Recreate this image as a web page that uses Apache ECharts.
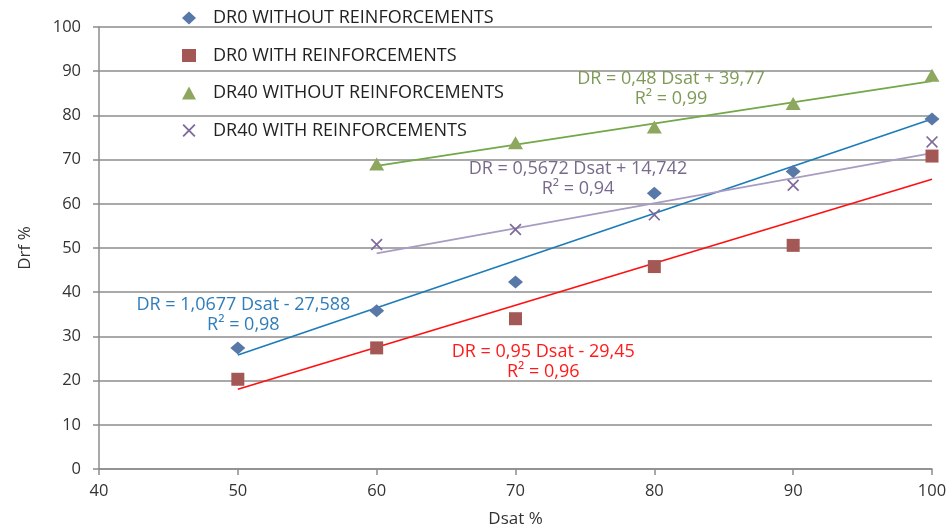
<!DOCTYPE html>
<html>
<head>
<meta charset="utf-8">
<script src="https://cdn.jsdelivr.net/npm/echarts@6/dist/echarts.min.js"></script>
<style>
  html, body { margin: 0; padding: 0; background: #fff; }
  #chart { width: 946px; height: 530px; }
</style>
</head>
<body>
<div id="chart"></div>
<script>
// Degree of saturation (Dsat %) and measured Drf % for each test series
const dr0WithoutX = [50, 60, 70, 80, 90, 100];
const dr0WithoutY = [27.4, 35.8, 42.3, 62.4, 67.3, 79.2];

const dr0WithX = [50, 60, 70, 80, 90, 100];
const dr0WithY = [20.3, 27.4, 34.0, 45.8, 50.6, 70.8];

const dr40WithoutX = [60, 70, 80, 90, 100];
const dr40WithoutY = [69.0, 73.8, 77.4, 82.7, 89.1];

const dr40WithX = [60, 70, 80, 90, 100];
const dr40WithY = [50.8, 54.2, 57.5, 64.2, 74.0];

// Linear trend lines: slope, intercept, fitted Dsat range
const trendSlope = [1.0677, 0.95, 0.48, 0.5672];
const trendIntercept = [-27.588, -29.45, 39.77, 14.742];
const trendFrom = [50, 50, 60, 60];
const trendTo = [100, 100, 100, 100];

// Equation labels and where they sit (Dsat, Drf)
const trendText = [
  'DR = 1,0677 Dsat - 27,588\nR² = 0,98',
  'DR = 0,95 Dsat - 29,45\nR² = 0,96',
  'DR = 0,48 Dsat + 39,77\nR² = 0,99',
  'DR = 0,5672 Dsat + 14,742\nR² = 0,94'
];
const trendLabelAt = [[50.4, 34.8], [72.0, 24.3], [81.2, 86.1], [74.5, 65.7]];

const seriesNames = [
  'DR0 WITHOUT REINFORCEMENTS',
  'DR0 WITH REINFORCEMENTS',
  'DR40 WITHOUT REINFORCEMENTS',
  'DR40 WITH REINFORCEMENTS'
];

const markerColor = ['#5878A8', '#A45856', '#8DA85E', '#7F6A9C'];
const lineColor = ['#1C7CB8', '#FF1010', '#72A848', '#A89CC2'];
const textColor = ['#2F7DBA', '#FF1A1A', '#7F9A57', '#786A8C'];
const markerShape = [
  'diamond',
  'rect',
  'triangle',
  'path://M0,1L1,0L5,4L9,0L10,1L6,5L10,9L9,10L5,6L1,10L0,9L4,5Z'
];
const markerSize = [[15, 13], 13, [15, 13], 12];

const pointsX = [dr0WithoutX, dr0WithX, dr40WithoutX, dr40WithX];
const pointsY = [dr0WithoutY, dr0WithY, dr40WithoutY, dr40WithY];

const FONT = "'Open Sans', sans-serif";

const series = [];
for (let i = 0; i < 4; i++) {
  // Fitted line drawn from its equation over the measured range
  series.push({
    type: 'line',
    name: seriesNames[i] + ' trend',
    data: [trendFrom[i], trendTo[i]].map(x => [x, trendSlope[i] * x + trendIntercept[i]]),
    symbol: 'none',
    lineStyle: { color: lineColor[i], width: 1.7 },
    silent: true,
    z: 2,
    markPoint: {
      symbol: 'circle',
      symbolSize: 0,
      silent: true,
      data: [{ coord: trendLabelAt[i] }],
      label: {
        show: true,
        position: 'inside',
        formatter: trendText[i],
        color: textColor[i],
        fontFamily: FONT,
        fontSize: 18,
        lineHeight: 20,
        align: 'center'
      }
    }
  });
}
for (let i = 0; i < 4; i++) {
  series.push({
    type: 'scatter',
    name: seriesNames[i],
    data: pointsX[i].map((x, k) => [x, pointsY[i][k]]),
    symbol: markerShape[i],
    symbolSize: markerSize[i],
    itemStyle: { color: markerColor[i], opacity: 1 },
    z: 3
  });
}

const chart = echarts.init(document.getElementById('chart'), null, { renderer: 'canvas' });
chart.setOption({
  animation: false,
  backgroundColor: '#ffffff',
  grid: { left: 99, right: 14, top: 27, bottom: 61, containLabel: false, outerBoundsMode: 'none' },
  legend: {
    data: seriesNames.map((n, i) => ({ name: n, icon: markerShape[i] })),
    orient: 'vertical',
    left: 177,
    top: 4,
    itemGap: 19.5,
    itemWidth: 14,
    itemHeight: 13,
    textStyle: { fontFamily: FONT, fontSize: 18, color: '#222', padding: [0, 0, 0, 12] },
    selectedMode: false
  },
  xAxis: {
    type: 'value',
    min: 40,
    max: 100,
    interval: 10,
    name: 'Dsat %',
    nameLocation: 'middle',
    nameGap: 42,
    nameTextStyle: { fontFamily: FONT, fontSize: 17, color: '#333' },
    axisLine: { show: true, lineStyle: { color: '#8C8C8C', width: 1.5 } },
    axisTick: { show: true, inside: false, length: 6, lineStyle: { color: '#8C8C8C', width: 1.5 } },
    axisLabel: { fontFamily: FONT, fontSize: 16.5, color: '#333', margin: 14 },
    splitLine: { show: false }
  },
  yAxis: {
    type: 'value',
    min: 0,
    max: 100,
    interval: 10,
    name: 'Drf %',
    nameLocation: 'middle',
    nameGap: 65,
    nameRotate: 90,
    nameTextStyle: { fontFamily: FONT, fontSize: 17, color: '#333' },
    axisLine: { show: true, onZero: false, lineStyle: { color: '#8C8C8C', width: 1.5 } },
    axisTick: { show: true, inside: false, length: 6, lineStyle: { color: '#8C8C8C', width: 1.5 } },
    axisLabel: { fontFamily: FONT, fontSize: 16.5, color: '#333', margin: 18 },
    splitLine: { show: true, lineStyle: { color: '#8C8C8C', width: 1.5 } }
  },
  series: series
});
</script>
</body>
</html>
